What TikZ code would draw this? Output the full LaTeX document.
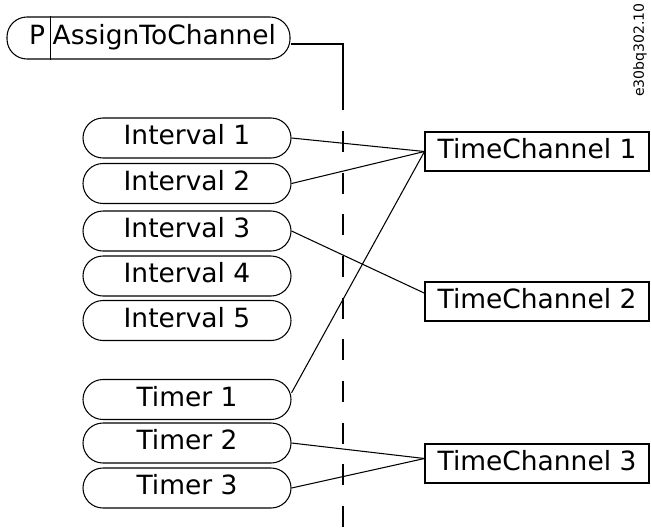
\documentclass[tikz,border=0pt]{standalone}
\usepackage{fontspec}
\setmainfont{DejaVu Sans}
\usepackage{tikz}
\usetikzlibrary{calc}
\newcommand{\labelfont}{\fontsize{22.6}{27}\selectfont}

\begin{document}
\begin{tikzpicture}[
  x=0.03cm, y=-0.03cm,
  % ── node styles ──────────────────────────────────────────────────────────
  pill/.style={
    draw=black, line width=0.9pt,
    rectangle, rounded corners=0.6cm,
    minimum width=6.24cm, minimum height=1.2cm,
    inner sep=0pt, font=\labelfont,
    text height=0.6cm, text depth=0.19cm
  },
  chan/.style={
    draw=black, line width=0.9pt,
    rectangle, minimum width=6.72cm, minimum height=1.17cm,
    inner sep=0pt, font=\labelfont,
    text height=0.6cm, text depth=0.19cm
  },
  plain/.style={
    inner sep=0pt, font=\labelfont,
    text height=0.6cm, text depth=0.19cm
  },
  % plain connector lines (no arrowhead)
  link/.style={
    draw=black, line width=0.9pt
  },
  % dashed time bus
  bus/.style={
    draw=black, line width=0.9pt,
    dash pattern=on 0.63cm off 0.62cm
  },
]

\useasboundingbox (0,0) rectangle (651,527);

% ── Parameter pill ──────────────────────────────────────────────────────────
\node[pill, minimum width=8.49cm, minimum height=1.26cm] (assign) at (148.5,38) {};
\node[plain] (ptag) at (37,38) {P};
\node[plain, anchor=west] (pname) at (52.5,38) {AssignToChannel};
\draw[link] ([xshift=1.32cm]assign.north west) -- ([xshift=1.32cm]assign.south west);

% ── Intervals and timers ────────────────────────────────────────────────────
\foreach \i/\y in {1/138, 2/183.5, 3/231, 4/276, 5/320.5}{
  \node[pill] (int\i) at (187,\y) {Interval \i};
}
\foreach \i/\y in {1/399.5, 2/443, 3/488}{
  \node[pill] (tim\i) at (187,\y) {Timer \i};
}

% ── Time channels ───────────────────────────────────────────────────────────
\node[chan] (ch1) at (537,151.5) {TimeChannel 1};
\node[chan] (ch2) at (537,301.5) {TimeChannel 2};
\node[chan] (ch3) at (537,463.5) {TimeChannel 3};

% ── Bus line ────────────────────────────────────────────────────────────────
\coordinate (busB) at (343,110);
\coordinate (busC) at (343,131);
\coordinate (busD) at (343,527);
\draw[link] ([yshift=-0.18cm]assign.east) -| (busB);
\draw[bus] (busC) -- (busD);

% ── Connections to channels ─────────────────────────────────────────────────
\draw[link] (int1.east) -- (ch1.west);
\draw[link] (int2.east) -- (ch1.west);
\draw[link] ([yshift=0.2cm]tim1.east) -- (ch1.west);
\draw[link] (int3.east) -- ([yshift=0.25cm]ch2.west);
\draw[link] (tim2.east) -- ([yshift=0.15cm]ch3.west);
\draw[link] (tim3.east) -- ([yshift=0.15cm]ch3.west);

% ── Drawing code ────────────────────────────────────────────────────────────
\node[rotate=90, inner sep=0pt, font=\fontsize{12}{14}\selectfont] (code) at (640,50) {e30bq302.10};

\end{tikzpicture}
\end{document}
